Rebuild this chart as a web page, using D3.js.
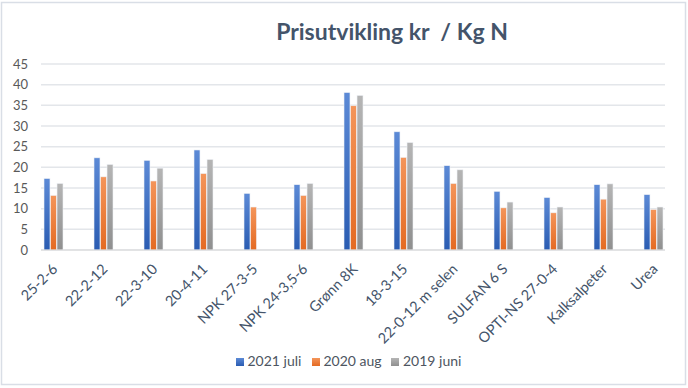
<!DOCTYPE html>
<html lang="no">
<head>
<meta charset="UTF-8">
<title>Prisutvikling kr / Kg N</title>
<script src="https://cdn.jsdelivr.net/npm/d3@7"></script>
<style>
  body { margin: 0; background: #fff; }
  svg { display: block; font-family: Lato, "Open Sans", sans-serif; }
</style>
</head>
<body>
<svg id="chart" width="688" height="388"></svg>
<script>
// kategorier og verdier (kr / kg N)
const categories = ["25-2-6", "22-2-12", "22-3-10", "20-4-11", "NPK 27-3-5", "NPK 24-3,5-6",
  "Grønn 8K", "18-3-15", "22-0-12 m selen", "SULFAN 6 S", "OPTI-NS 27-0-4", "Kalksalpeter", "Urea"];
const seriesNames = ["2021 juli", "2020 aug", "2019 juni"];
const juli2021 = [17.3, 22.3, 21.7, 24.2, 13.7, 15.8, 38.1, 28.6, 20.4, 14.2, 12.7, 15.8, 13.4];
const aug2020  = [13.2, 17.7, 16.7, 18.5, 10.4, 13.2, 34.9, 22.4, 16.1, 10.2, 9.0, 12.3, 9.8];
const juni2019 = [16.1, 20.7, 19.8, 21.9, null, 16.1, 37.4, 26.0, 19.4, 11.6, 10.4, 16.0, 10.4];
const yTicks = [0, 5, 10, 15, 20, 25, 30, 35, 40, 45];

const values = [juli2021, aug2020, juni2019];
const colors = [
  { top: "#5c8ad6", bottom: "#2a5cb2" },
  { top: "#f4955a", bottom: "#e46a22" },
  { top: "#b5b5b5", bottom: "#8f8f8f" }
];

const svg = d3.select("#chart");

// ramme rundt diagrammet
svg.append("rect")
  .attr("x", 1.5).attr("y", 2.5).attr("width", 684).attr("height", 382)
  .attr("fill", "#fff").attr("stroke", "#d9dee6").attr("stroke-width", 1.5);

// gradienter
const defs = svg.append("defs");
colors.forEach((c, i) => {
  const g = defs.append("linearGradient").attr("id", "grad" + i)
    .attr("x1", 0).attr("y1", 0).attr("x2", 0).attr("y2", 1);
  g.append("stop").attr("offset", "0%").attr("stop-color", c.top);
  g.append("stop").attr("offset", "100%").attr("stop-color", c.bottom);
});

const plotLeft = 41, plotRight = 665;
const y = d3.scaleLinear().domain([0, 45]).range([250, 64]);
const x0 = d3.scaleBand().domain(categories).range([28.5, 678.5]);
const x1 = d3.scaleBand().domain(d3.range(3)).range([-9.5, 9.5]).paddingInner(0.08);

// rutenett
svg.append("g").selectAll("line").data(yTicks).join("line")
  .attr("x1", plotLeft).attr("x2", plotRight)
  .attr("y1", d => y(d)).attr("y2", d => y(d))
  .attr("stroke", "#e3e6ea").attr("stroke-width", 1.5);

// y-akse
const yAxis = svg.append("g").attr("transform", `translate(${plotLeft},0)`)
  .call(d3.axisLeft(y).tickValues(yTicks).tickSize(0).tickPadding(13));
yAxis.select(".domain").remove();
yAxis.selectAll("text").attr("fill", "#595959").style("font-size", "13px")
  .style("font-family", "Lato, 'Open Sans', sans-serif");

// stolper
const groups = svg.append("g").selectAll("g").data(categories).join("g")
  .attr("transform", d => `translate(${x0(d) + x0.bandwidth() / 2},0)`);
groups.selectAll("rect")
  .data((d, ci) => values.map((s, si) => ({ si, v: s[ci] })).filter(e => e.v != null))
  .join("rect")
  .attr("x", e => x1(e.si))
  .attr("width", x1.bandwidth())
  .attr("y", e => y(e.v))
  .attr("height", e => y(0) - y(e.v))
  .attr("fill", e => `url(#grad${e.si})`)
  .attr("stroke", "#eef1f6").attr("stroke-width", 0.6);

// x-akse
const xAxis = svg.append("g").attr("transform", `translate(0,${y(0)})`)
  .call(d3.axisBottom(x0).tickSize(0).tickPadding(0));
xAxis.select(".domain").attr("stroke", "#d9d9d9").attr("d", `M${plotLeft},0H${plotRight}`);
xAxis.selectAll("text")
  .attr("fill", "#44546a").style("font-size", "14.5px")
  .style("font-family", "Lato, 'Open Sans', sans-serif")
  .attr("text-anchor", "end").attr("dy", null).attr("y", 0)
  .attr("transform", "translate(5,20) rotate(-45)");

// tittel
svg.append("text").attr("x", 392).attr("y", 40).attr("text-anchor", "middle")
  .attr("fill", "#44546a").style("font-size", "23px").style("font-weight", "bold")
  .style("white-space", "pre").attr("xml:space", "preserve")
  .text("Prisutvikling kr  / Kg N");

// forklaring
const legendX = [236, 312, 391];
const legend = svg.append("g").selectAll("g").data(seriesNames).join("g")
  .attr("transform", (d, i) => `translate(${legendX[i]},366)`);
legend.append("rect").attr("x", 0).attr("y", -8).attr("width", 8).attr("height", 8)
  .attr("fill", (d, i) => `url(#grad${i})`);
legend.append("text").attr("x", (d, i) => i === 2 ? 12 : 11.5).attr("y", 0).attr("fill", "#4d5561")
  .style("font-size", "14px").text(d => d);
</script>
</body>
</html>
